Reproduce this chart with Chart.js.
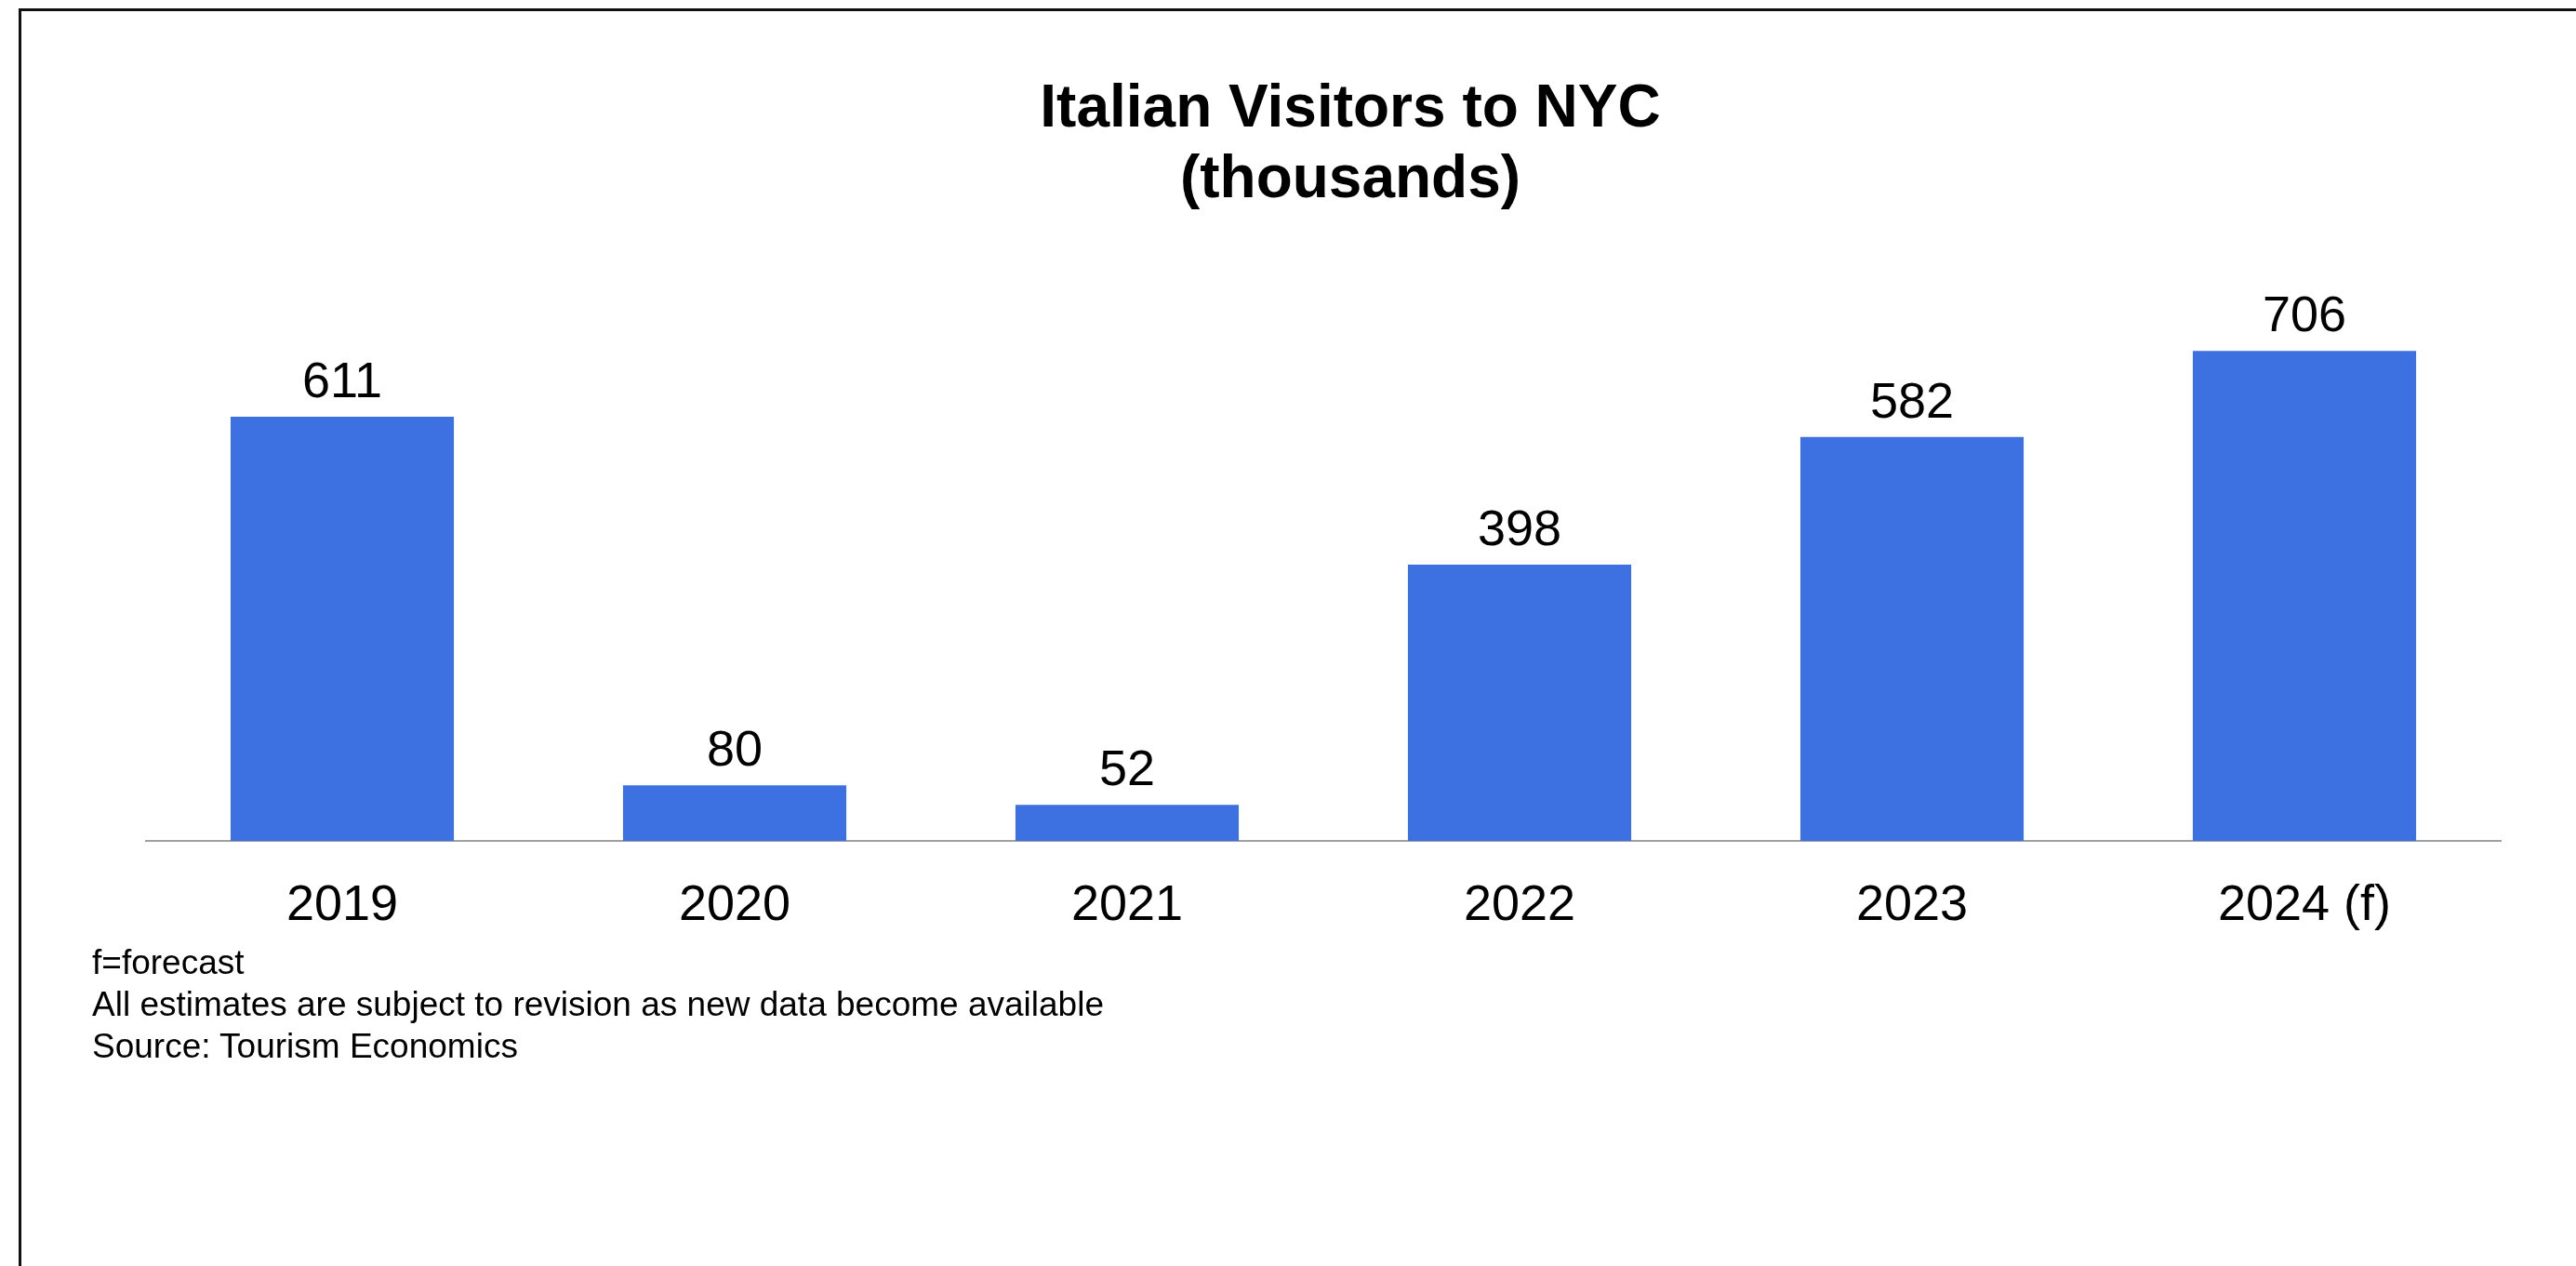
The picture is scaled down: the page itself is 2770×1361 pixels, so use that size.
<!DOCTYPE html>
<html>
<head>
<meta charset="utf-8">
<title>Italian Visitors to NYC</title>
<script src="https://cdn.jsdelivr.net/npm/chart.js@4.4.1/dist/chart.umd.min.js"></script>
<style>
    html, body { margin: 0; padding: 0; background: #fff; }
    body { width: 2770px; height: 1361px; position: relative; overflow: hidden; font-family: "Liberation Sans", Arial, sans-serif; }
    /* slide frame: only the top and left edges show */
    .frame { position: absolute; left: 20px; top: 9px; right: -10px; bottom: -10px; border-top: 3px solid #111; border-left: 3px solid #111; }
    #chartBox { position: absolute; left: 0; top: 0; width: 2770px; height: 1361px; }
    .title { position: absolute; left: 752px; top: 76px; width: 1400px; text-align: center; font-weight: bold; font-size: 64px; line-height: 76px; color: #000; }
    .notes { position: absolute; left: 99px; top: 1012px; font-size: 37px; line-height: 45px; color: #000; }
</style>
</head>
<body>
<div class="frame"></div>
<div id="chartBox"><canvas id="visitorsChart" width="2770" height="1361"></canvas></div>
<div class="title">Italian Visitors to NYC<br>(thousands)</div>
<div class="notes">
    f=forecast<br>
    All estimates are subject to revision as new data become available<br>
    Source: Tourism Economics
</div>

<script>
// Visitors by year, thousands
const years = ['2019', '2020', '2021', '2022', '2023', '2024 (f)'];
const visitors = [611, 80, 52, 398, 582, 706];

// value axis range (axis itself is hidden)
const yMin = 0;
const yMax = 800;

const BAR_BLUE = '#3D70E0';
const LABEL_FONT = '54px "Liberation Sans", Arial, sans-serif';

// Draws the number above each bar and the year under the axis
const barLabels = {
    id: 'barLabels',
    afterDatasetsDraw(chart) {
        const ctx = chart.ctx;
        const meta = chart.getDatasetMeta(0);
        const xScale = chart.scales.x;
        ctx.save();
        ctx.font = LABEL_FONT;
        ctx.fillStyle = '#000';
        ctx.textAlign = 'center';
        ctx.textBaseline = 'alphabetic';
        meta.data.forEach((bar, i) => {
            ctx.fillText(String(visitors[i]), bar.x, bar.y - 21);
            ctx.fillText(years[i], xScale.getPixelForValue(i), chart.chartArea.bottom + 85);
        });
        ctx.restore();
    }
};

const ctx = document.getElementById('visitorsChart').getContext('2d');
const visitorsChart = new Chart(ctx, {
    type: 'bar',
    data: {
        labels: years,
        datasets: [{
            data: visitors,
            backgroundColor: BAR_BLUE,
            borderWidth: 0,
            barPercentage: 0.569,
            categoryPercentage: 1.0
        }]
    },
    options: {
        responsive: false,
        devicePixelRatio: 1,
        animation: false,
        layout: {
            padding: { left: 157, right: 81, top: 307, bottom: 457 }
        },
        plugins: {
            legend: { display: false },
            title: { display: false },
            tooltip: { enabled: false }
        },
        scales: {
            x: {
                grid: { display: false, drawTicks: false },
                border: { display: true, color: '#A0A0A0', width: 2 },
                ticks: { display: false }
            },
            y: {
                display: false,
                min: yMin,
                max: yMax
            }
        }
    },
    plugins: [barLabels]
});
</script>
</body>
</html>
